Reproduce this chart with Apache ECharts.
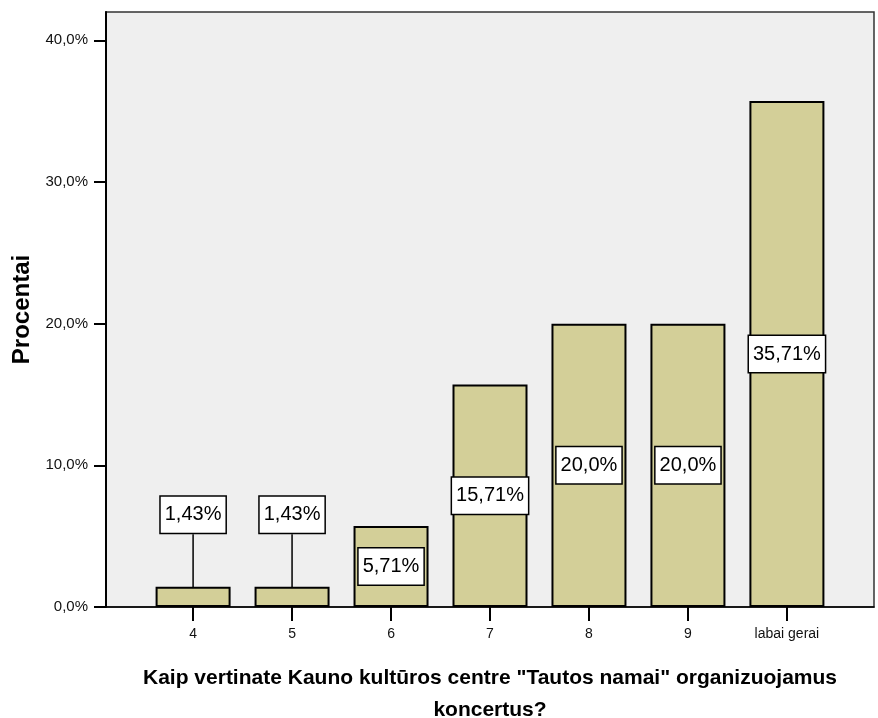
<!DOCTYPE html>
<html>
<head>
<meta charset="utf-8">
<title>Procentai</title>
<script src="https://cdn.jsdelivr.net/npm/echarts@6/dist/echarts.min.js"></script>
<style>
  html, body { margin: 0; padding: 0; background: #fff; }
  #chart { width: 878px; height: 718px; }
</style>
</head>
<body>
<div id="chart"></div>
<script>
// data
const categories = ['4', '5', '6', '7', '8', '9', 'labai gerai']
const percents = [1.43, 1.43, 5.71, 15.71, 20.0, 20.0, 35.71]
const labelTexts = ['1,43%', '1,43%', '5,71%', '15,71%', '20,0%', '20,0%', '35,71%']
const yTicks = [0, 10, 20, 30, 40]

const font = 'Liberation Sans, Arial, sans-serif'
const catIdx = categories.map((c, i) => i)

const chart = echarts.init(document.getElementById('chart'))
chart.setOption({
  backgroundColor: '#fff',
  animation: false,
  grid: {
    show: true,
    left: 106,
    right: 4,
    top: 12,
    bottom: 111,
    outerBoundsMode: 'none',
    backgroundColor: '#efefef',
    borderColor: '#333',
    borderWidth: 1.5
  },
  xAxis: {
    type: 'value',
    min: -0.88,
    max: 6.88,
    name: 'Kaip vertinate Kauno kultūros centre "Tautos namai" organizuojamus\nkoncertus?',
    nameLocation: 'middle',
    nameGap: 55,
    nameTextStyle: {
      fontFamily: font,
      fontWeight: 'bold',
      fontSize: 21,
      lineHeight: 32,
      color: '#000'
    },
    axisLine: { show: true, onZero: false, lineStyle: { color: '#000', width: 1.5 } },
    axisTick: {
      show: true,
      length: 14,
      customValues: catIdx,
      lineStyle: { color: '#000', width: 2 }
    },
    axisLabel: {
      customValues: catIdx,
      margin: 20,
      fontFamily: font,
      fontSize: 14,
      color: '#111',
      formatter: v => categories[Math.round(v)]
    },
    splitLine: { show: false }
  },
  yAxis: {
    type: 'value',
    min: 0,
    max: 42,
    name: 'Procentai',
    nameLocation: 'middle',
    nameGap: 67,
    nameRotate: 90,
    nameTextStyle: {
      fontFamily: font,
      fontWeight: 'bold',
      fontSize: 24,
      color: '#000'
    },
    axisLine: { show: true, onZero: false, lineStyle: { color: '#000', width: 2 } },
    axisTick: {
      show: true,
      length: 12,
      customValues: yTicks,
      lineStyle: { color: '#000', width: 2 }
    },
    axisLabel: {
      customValues: yTicks,
      margin: 18,
      fontFamily: font,
      fontSize: 15,
      color: '#111',
      formatter: v => v.toFixed(1).replace('.', ',') + '%'
    },
    splitLine: { show: false }
  },
  series: [{
    type: 'bar',
    barWidth: 75,
    itemStyle: {
      color: '#d3cf98',
      borderColor: '#000',
      borderWidth: 2
    },
    label: {
      show: true,
      position: 'inside',
      fontFamily: font,
      fontSize: 20,
      color: '#000',
      backgroundColor: '#fff',
      borderColor: '#000',
      borderWidth: 1.5,
      padding: [8, 4],
      formatter: p => labelTexts[p.dataIndex]
    },
    labelLayout: p => (percents[p.dataIndex] < 3 ? { dy: -82 } : {}),
    data: percents.map((v, i) => ({
      value: [i, v],
      labelLine: {
        show: v < 3,
        lineStyle: { color: '#000', width: 1.5 }
      }
    }))
  }]
})
</script>
</body>
</html>
